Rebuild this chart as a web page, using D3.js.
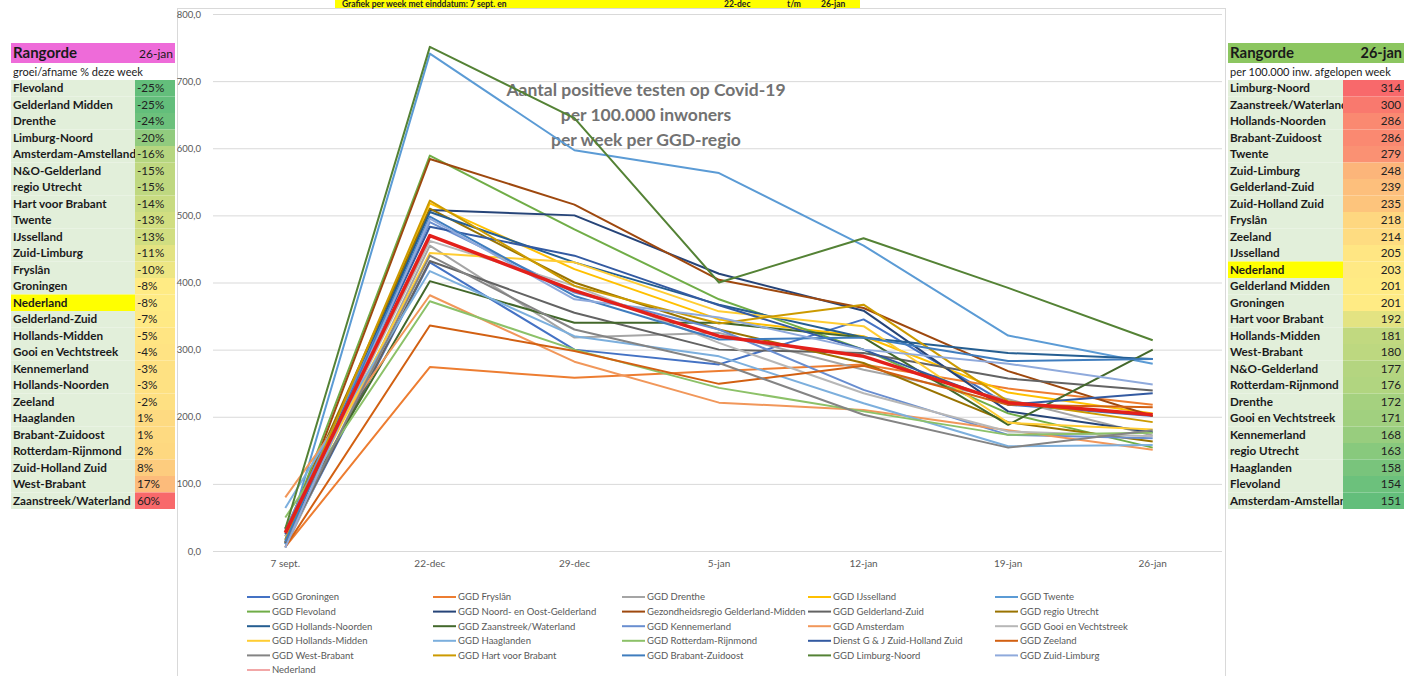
<!DOCTYPE html>
<html><head><meta charset="utf-8">
<script src="https://cdn.jsdelivr.net/npm/d3@7"></script>
<style>body{margin:0;background:#fff;overflow:hidden}svg{display:block}text{font-family:Lato,"Open Sans",sans-serif}</style>
</head><body><svg id="c" width="1404" height="676"></svg>
<script>
// ---------- DATA ----------
const dates = ["7 sept.","22-dec","29-dec","5-jan","12-jan","19-jan","26-jan"];
const yTicks = [0,100,200,300,400,500,600,700,800];
const seriesNames = ["GGD Groningen","GGD Fryslân","GGD Drenthe","GGD IJsselland","GGD Twente",
  "GGD Flevoland","GGD Noord- en Oost-Gelderland","Gezondheidsregio Gelderland-Midden","GGD Gelderland-Zuid","GGD regio Utrecht",
  "GGD Hollands-Noorden","GGD Zaanstreek/Waterland","GGD Kennemerland","GGD Amsterdam","GGD Gooi en Vechtstreek",
  "GGD Hollands-Midden","GGD Haaglanden","GGD Rotterdam-Rijnmond","Dienst G & J Zuid-Holland Zuid","GGD Zeeland",
  "GGD West-Brabant","GGD Hart voor Brabant","GGD Brabant-Zuidoost","GGD Limburg-Noord","GGD Zuid-Limburg",
  "Nederland"];
const seriesValues = [
  [10,430,300,278,345,218,201],
  [6,274,258,268,278,242,218],
  [5,455,318,325,270,226,172],
  [12,518,420,345,320,236,205],
  [10,741,597,563,455,321,279],
  [22,589,479,375,300,205,154],
  [12,508,500,413,358,208,177],
  [13,584,516,404,362,268,201],
  [12,432,355,300,295,257,239],
  [30,510,400,330,280,192,163],
  [17,505,430,367,318,295,286],
  [34,402,340,340,318,188,300],
  [32,490,385,330,240,173,168],
  [80,381,282,221,210,180,151],
  [22,462,395,310,235,178,171],
  [27,444,430,357,335,191,181],
  [64,417,320,290,220,156,158],
  [50,372,300,243,208,173,176],
  [25,483,440,366,300,218,235],
  [6,336,298,249,276,218,214],
  [14,440,330,280,203,154,180],
  [16,522,395,339,367,223,192],
  [14,498,380,315,318,283,286],
  [33,751,645,400,466,392,314],
  [5,495,375,348,300,279,248],
  [27,470,388,320,290,221,203]
];
const seriesColors = ["#4472C4","#ED7D31","#A5A5A5","#FFC000","#5B9BD5","#70AD47",
  "#264478","#9E480E","#636363","#997300","#255E91","#43682B",
  "#698ED0","#F1975A","#B7B7B7","#FFCD33","#7CAFDD","#8CC168",
  "#335AA1","#D26012","#848484","#CC9A00","#3F7DBE","#548235","#8FAADC","#E3201B"];

const leftNames = ["Flevoland","Gelderland  Midden","Drenthe","Limburg-Noord","Amsterdam-Amstelland","N&O-Gelderland","regio Utrecht","Hart voor Brabant","Twente","IJsselland","Zuid-Limburg","Fryslân","Groningen","Nederland","Gelderland-Zuid","Hollands-Midden","Gooi en Vechtstreek","Kennemerland","Hollands-Noorden","Zeeland","Haaglanden","Brabant-Zuidoost","Rotterdam-Rijnmond","Zuid-Holland Zuid","West-Brabant","Zaanstreek/Waterland"];
const leftPct = [-25,-25,-24,-20,-16,-15,-15,-14,-13,-13,-11,-10,-8,-8,-7,-5,-4,-3,-3,-2,1,1,2,8,17,60];
const rightNames = ["Limburg-Noord","Zaanstreek/Waterland","Hollands-Noorden","Brabant-Zuidoost","Twente","Zuid-Limburg","Gelderland-Zuid","Zuid-Holland Zuid","Fryslân","Zeeland","IJsselland","Nederland","Gelderland  Midden","Groningen","Hart voor Brabant","Hollands-Midden","West-Brabant","N&O-Gelderland","Rotterdam-Rijnmond","Drenthe","Gooi en Vechtstreek","Kennemerland","regio Utrecht","Haaglanden","Flevoland","Amsterdam-Amstelland"];
const rightVals = [314,300,286,286,279,248,239,235,218,214,205,203,201,201,192,181,180,177,176,172,171,168,163,158,154,151];

// ---------- DRAW ----------
const svg = d3.select("#c");
const nl = d3.formatLocale({decimal:",",thousands:".",grouping:[3],currency:["€",""]});
const fmt = nl.format(".1f");

// chart frame
svg.append("rect").attr("x",177.5).attr("y",8.5).attr("width",1048).attr("height",700)
  .attr("fill","#fff").attr("stroke","#D9D9D9");

// top yellow title strip
svg.append("rect").attr("x",335).attr("y",0).attr("width",525).attr("height",8).attr("fill","#FFFF00");
const topT = [["Grafiek per week met einddatum: 7 sept. en",342],["22-dec",724],["t/m",787],["26-jan",821]];
svg.selectAll("text.top").data(topT).join("text").attr("class","top")
  .attr("x",d=>d[1]).attr("y",7).attr("font-size",8.5).attr("font-weight","bold").attr("fill","#222").text(d=>d[0]);

const x = d3.scaleBand().domain(dates).range([213,1225]);
const y = d3.scaleLinear().domain([0,800]).range([551,14]);
const cx = d => x(d) + x.bandwidth()/2;

// grid + y axis
const gy = svg.append("g").attr("transform","translate(213,0)")
  .call(d3.axisLeft(y).tickValues(yTicks).tickSize(-1009).tickPadding(12).tickFormat(fmt));
gy.select(".domain").remove();
gy.selectAll("line").attr("stroke","#D9D9D9");
gy.selectAll("text").attr("fill","#595959").attr("font-size",9.5).attr("font-family","Lato");

// x axis
const gx = svg.append("g").attr("transform","translate(0,551)")
  .call(d3.axisBottom(x).tickSize(0).tickPadding(9));
gx.select(".domain").remove();
gx.selectAll("text").attr("fill","#595959").attr("font-size",10).attr("font-family","Lato");

// chart title (behind lines)
const title = ["Aantal positieve testen op Covid-19","per 100.000 inwoners","per week per GGD-regio"];
svg.selectAll("text.ttl").data(title).join("text").attr("class","ttl")
  .attr("x",646).attr("y",(d,i)=>96+i*25).attr("text-anchor","middle")
  .attr("font-size",17.5).attr("font-weight","bold").attr("fill","#727272").text(d=>d);

// lines
const line = d3.line().x((d,i)=>cx(dates[i])).y(d=>y(d));
svg.append("g").selectAll("path").data(seriesValues).join("path")
  .attr("d",line).attr("fill","none")
  .attr("stroke",(d,i)=>seriesColors[i])
  .attr("stroke-width",(d,i)=>i===seriesValues.length-1?3.5:2)
  .attr("stroke-linejoin","round");

// legend
const lgX = [247,433,622,808,995];
const lg = svg.append("g").selectAll("g").data(seriesNames).join("g")
  .attr("transform",(d,i)=>`translate(${lgX[i%5]},${597+Math.floor(i/5)*14.6})`);
lg.append("line").attr("x1",0).attr("x2",23).attr("stroke",(d,i)=>i===seriesNames.length-1?"#F2A7A7":seriesColors[i]).attr("stroke-width",2);
lg.append("text").attr("x",25).attr("dy","0.35em").attr("font-size",9.5).attr("fill","#595959").text(d=>d);

// ---------- TABLES ----------
const rowH = 16.5, row0 = 80;
function table(opt){
  const g = svg.append("g");
  g.append("rect").attr("x",opt.x0).attr("y",43).attr("width",opt.x2-opt.x0).attr("height",20).attr("fill",opt.head);
  g.append("text").attr("x",opt.x0+2).attr("y",58).attr("font-size",15).attr("font-weight","bold").attr("fill","#1a1a1a").text("Rangorde");
  g.append("text").attr("x",opt.x2-2).attr("y",58).attr("text-anchor","end").attr("font-size",opt.dateSize)
    .attr("font-weight",opt.dateWeight).attr("fill","#1a1a1a").text("26-jan");
  g.append("text").attr("x",opt.x0+2).attr("y",75.5).attr("font-size",11).attr("fill","#1a1a1a").text(opt.sub);
  const rows = g.selectAll("g.r").data(opt.names).join("g").attr("class","r")
    .attr("transform",(d,i)=>`translate(0,${row0+i*rowH})`);
  rows.append("rect").attr("x",opt.x0).attr("width",opt.x1-opt.x0).attr("height",rowH)
    .attr("fill",d=>d==="Nederland"?"#FFFF00":"#E2EFDA");
  rows.append("text").attr("x",opt.x0+2).attr("y",12.3).attr("font-size",11.7).attr("font-weight","bold").attr("fill","#1a1a1a").text(d=>d);
  const col = d3.scaleLinear().domain([d3.min(opt.vals),d3.median(opt.vals),d3.max(opt.vals)])
    .range(["#63BE7B","#FFEB84","#F8696B"]);
  rows.append("rect").attr("x",opt.x1).attr("width",opt.x2-opt.x1).attr("height",rowH)
    .attr("fill",(d,i)=>col(opt.vals[i]));
  rows.append("text").attr("x",opt.vx).attr("y",12.3).attr("text-anchor",opt.anchor).attr("font-size",11.7).attr("fill","#222")
    .text((d,i)=>opt.fmt(opt.vals[i]));
}
table({x0:11,x1:135,x2:175,head:"#EE6BD9",sub:"groei/afname % deze week",names:leftNames,vals:leftPct,
  vx:137,anchor:"start",fmt:v=>v+"%",dateSize:12,dateWeight:"normal"});
table({x0:1228,x1:1343,x2:1404,head:"#8CC660",sub:"per 100.000 inw. afgelopen week",names:rightNames,vals:rightVals,
  vx:1401,anchor:"end",fmt:v=>v,dateSize:14.5,dateWeight:"bold"});
</script></body></html>
